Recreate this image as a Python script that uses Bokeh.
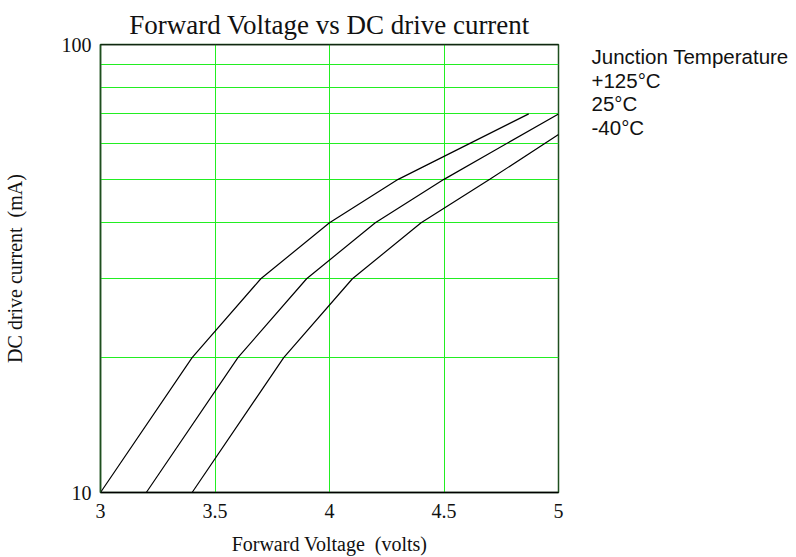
from bokeh.plotting import figure
from bokeh.layouts import row
from bokeh.models import FixedTicker, BasicTickFormatter, Span, Label
from bokeh.embed import file_html
from bokeh.resources import INLINE

# ---- data ----
x_ticks = [3, 3.5, 4, 4.5, 5]
x_tick_labels = ["3", "3.5", "4", "4.5", "5"]
y_ticks = [10, 100]
y_tick_labels = ["10", "100"]
x_grid = [3.5, 4, 4.5]
y_grid = [20, 30, 40, 50, 60, 70, 80, 90]

v_125 = [3.0, 3.4, 3.7, 4.0, 4.3, 4.87]
i_125 = [10, 20, 30, 40, 50, 70]
v_25 = [3.2, 3.6, 3.9, 4.2, 4.5, 5.0]
i_25 = [10, 20, 30, 40, 50, 70]
v_m40 = [3.4, 3.8, 4.1, 4.4, 4.7, 5.0]
i_m40 = [10, 20, 30, 40, 50, 63]

legend_title = "Junction Temperature"
legend_labels = ["+125°C", "25°C", "-40°C"]

SERIF = "Liberation Serif"
SANS = "Liberation Sans"
FRAME_GREEN = "#1f4f1f"
GRID_GREEN = "#22ee22"
INK = "#111111"

p = figure(width=568, height=557, y_axis_type="log",
           x_range=(3, 5), y_range=(10, 100),
           output_backend="svg", toolbar_location=None,
           min_border_left=100, min_border_right=10,
           min_border_top=44, min_border_bottom=65,
           title="Forward Voltage vs DC drive current")

p.title.text_font = SERIF
p.title.text_font_size = "27px"
p.title.text_font_style = "normal"
p.title.align = "center"
p.title.standoff = 10
p.title.text_color = INK

p.background_fill_color = "white"
p.border_fill_color = "white"
p.outline_line_color = FRAME_GREEN
p.outline_line_width = 1.5

# axes
p.xaxis.ticker = FixedTicker(ticks=x_ticks)
p.xaxis.major_label_overrides = {t: l for t, l in zip(x_ticks, x_tick_labels)}
p.yaxis.ticker = FixedTicker(ticks=y_ticks)
p.yaxis.formatter = BasicTickFormatter()
p.yaxis.major_label_overrides = {t: l for t, l in zip(y_ticks, y_tick_labels)}

for ax in (p.xaxis, p.yaxis):
    ax.major_tick_out = 0
    ax.major_tick_in = 0
    ax.minor_tick_out = 0
    ax.minor_tick_in = 0
    ax.major_label_text_font = SERIF
    ax.major_label_text_font_size = "20px"
    ax.major_label_text_color = INK
    ax.axis_label_text_font = SERIF
    ax.axis_label_text_font_size = "20px"
    ax.axis_label_text_font_style = "normal"
    ax.axis_label_text_color = INK

p.xaxis.axis_label = "Forward Voltage \u00a0(volts)"
p.yaxis.axis_label = "DC drive current \u00a0(mA)"
p.xaxis.axis_line_color = "black"
p.xaxis.axis_line_width = 1.5
p.yaxis.axis_line_color = FRAME_GREEN
p.yaxis.axis_line_width = 1.5
p.xaxis.major_label_standoff = 11
p.yaxis.major_label_standoff = 9
p.xaxis.axis_label_standoff = 12
p.yaxis.axis_label_standoff = 33

# grid
p.xgrid.ticker = FixedTicker(ticks=x_grid)
p.ygrid.ticker = FixedTicker(ticks=y_grid)
p.xgrid.grid_line_color = GRID_GREEN
p.ygrid.grid_line_color = GRID_GREEN
p.xgrid.grid_line_width = 1
p.ygrid.grid_line_width = 1

# top frame edge black
p.add_layout(Span(location=100, dimension="width", line_color="black", line_width=1.5))

# curves
for vs, cs in ((v_125, i_125), (v_25, i_25), (v_m40, i_m40)):
    p.line(vs, cs, line_color="black", line_width=1.2)

# legend panel (text only), to the right of the chart
q = figure(width=228, height=557, x_range=(0, 1), y_range=(0, 1),
           x_axis_type=None, y_axis_type=None,
           output_backend="svg", toolbar_location=None,
           min_border=0, min_border_left=0, min_border_right=0,
           min_border_top=0, min_border_bottom=0)
q.outline_line_color = None
q.xgrid.visible = False
q.ygrid.visible = False
q.background_fill_color = "white"
q.border_fill_color = "white"

lines = [legend_title] + legend_labels
for k, t in enumerate(lines):
    q.add_layout(Label(x=23, y=436 - k * 23.7, x_units="screen", y_units="screen",
                       text=t, text_font=SANS, text_font_size="20.5px",
                       text_baseline="middle", text_align="left", text_color=INK))

layout = row(p, q, spacing=0)
open("out.html", "w").write(file_html(layout, INLINE))
